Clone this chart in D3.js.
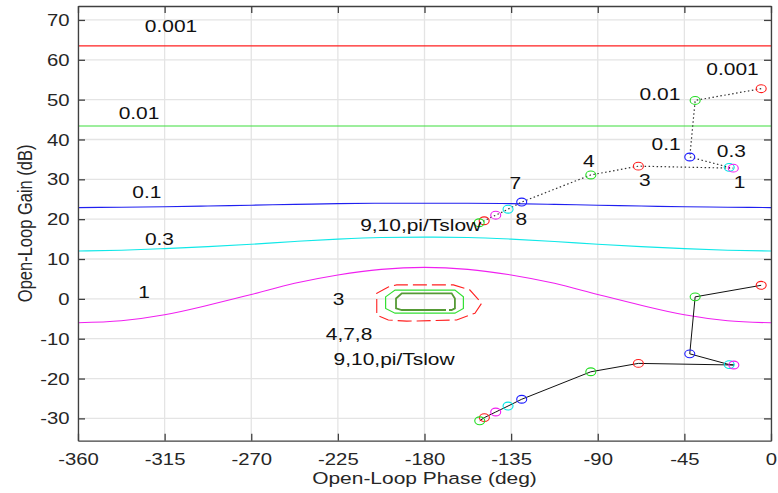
<!DOCTYPE html>
<html>
<head>
<meta charset="utf-8">
<script src="https://cdn.jsdelivr.net/npm/d3@7"></script>
<style>
  body { margin: 0; background: #fff; }
  svg { display: block; font-family: "Liberation Sans", Arial, sans-serif; }
</style>
</head>
<body>
<div id="chart"></div>
<script>
// Nichols-style gain/phase chart with loop points

var phaseTicks = [-360, -315, -270, -225, -180, -135, -90, -45, 0];
var gainTicks = [-30, -20, -10, 0, 10, 20, 30, 40, 50, 60, 70];

// open contour lines, sampled every 22.5 deg
var curvePhase = [-360, -337.5, -315, -292.5, -270, -247.5, -225, -202.5, -180,
                  -157.5, -135, -112.5, -90, -67.5, -45, -22.5, 0];
var gain0001 = [63.5, 63.5, 63.5, 63.5, 63.5, 63.5, 63.5, 63.5, 63.5,
                63.5, 63.5, 63.5, 63.5, 63.5, 63.5, 63.5, 63.5];
var gain001 = [43.4, 43.4, 43.4, 43.4, 43.4, 43.4, 43.4, 43.4, 43.4,
               43.4, 43.4, 43.4, 43.4, 43.4, 43.4, 43.4, 43.4];
var gain01 = [22.9, 23.0, 23.1, 23.3, 23.5, 23.7, 23.9, 24.0, 24.0,
              24.0, 23.9, 23.7, 23.5, 23.3, 23.1, 23.0, 22.9];
var gain03 = [12.0, 12.2, 12.6, 13.1, 13.7, 14.4, 15.0, 15.4, 15.5,
              15.4, 15.0, 14.4, 13.7, 13.1, 12.6, 12.2, 12.0];
var gain1 = [-6.0, -5.5, -4.0, -1.6, 1.1, 3.9, 6.0, 7.4, 7.9,
             7.4, 6.0, 3.9, 1.1, -1.6, -4.0, -5.5, -6.0];

// closed contours around -180 deg
var loop3 = [[-204.8, 1.4], [-198.8, 3.0], [-194.4, 3.5], [-165.0, 3.5], [-156.4, 2.2],
             [-150.3, -1.1], [-153.8, -3.6], [-163.3, -5.3], [-189.2, -5.6], [-198.8, -5.3], [-204.8, -4.1]];
var loop478 = [[-200.2, 0.5], [-195.3, 2.2], [-164.2, 2.2], [-159.8, 0.5],
               [-159.8, -2.4], [-164.2, -3.6], [-195.3, -3.6], [-200.2, -2.4]];
var loop910 = [[-194.8, 0.1], [-191.8, 1.4], [-165.9, 1.4], [-164.2, 0.1],
               [-164.2, -2.4], [-165.9, -2.8], [-191.8, -2.8], [-194.8, -2.4]];

var contourNames = ["0.001", "0.01", "0.1", "0.3", "1", "3", "4,7,8", "9,10,pi/Tslow", "9,10,pi/Tslow"];
var contourLabelPhase = [-311.7, -328.3, -324.2, -317.7, -325.7, -224.7, -219.2, -195.8, -182.0];
var contourLabelGain = [67.0, 45.1, 25.4, 13.5, 0.2, -1.55, -10.3, -16.6, 17.0];

// loop points (same frequencies for both traces)
var pointColors = ["#ff1a1a", "#22dd22", "#1a1aff", "#00e5e5", "#f01ef0",
                   "#ff1a1a", "#22dd22", "#1a1aff", "#00e5e5", "#f01ef0", "#ff1a1a", "#22dd22"];
var upperPhase = [-5.1, -39.4, -42.2, -21.7, -19.6, -68.9, -93.6, -129.5, -136.6, -143.0, -149.0, -151.6];
var upperGain = [52.75, 49.8, 35.6, 33.0, 32.8, 33.3, 31.1, 24.3, 22.5, 21.0, 19.6, 19.1];
var lowerPhase = [-5.1, -39.4, -42.2, -21.7, -19.3, -68.9, -93.6, -129.5, -136.6, -143.0, -148.9, -151.3];
var lowerGain = [3.4, 0.5, -13.8, -16.5, -16.6, -16.2, -18.3, -25.2, -26.9, -28.4, -29.8, -30.6];

var pointNames = ["0.001", "0.01", "0.1", "0.3", "1", "3", "4", "7", "8"];
var pointLabelPhase = [-20.0, -57.7, -54.5, -20.6, -16.3, -65.6, -94.7, -132.8, -129.7];
var pointLabelGain = [56.2, 49.9, 37.4, 35.5, 27.9, 28.3, 33.0, 27.5, 18.5];

var width = 778, height = 493;
var margin = {top: 6, right: 7, bottom: 52.3, left: 78};
var stretch = 1.27;   // text in the picture is wider than tall
var ink = "#262626";

var svg = d3.select("#chart").append("svg")
    .attr("width", width)
    .attr("height", height);

var x = d3.scaleLinear()
    .domain([-360, 0])
    .range([margin.left, width - margin.right]);

var y = d3.scaleLinear()
    .domain([-35.6, 73.5])
    .range([height - margin.bottom, margin.top]);

// grid
svg.append("g").selectAll("line")
    .data(phaseTicks)
    .enter().append("line")
    .attr("x1", function(d) { return x(d); })
    .attr("x2", function(d) { return x(d); })
    .attr("y1", y.range()[0])
    .attr("y2", y.range()[1])
    .attr("stroke", "#e4e4e4")
    .attr("stroke-width", 1.3);

svg.append("g").selectAll("line")
    .data(gainTicks)
    .enter().append("line")
    .attr("x1", x.range()[0])
    .attr("x2", x.range()[1])
    .attr("y1", function(d) { return y(d); })
    .attr("y2", function(d) { return y(d); })
    .attr("stroke", "#e4e4e4")
    .attr("stroke-width", 1.3);

// open contours
var curve = d3.line()
    .x(function(d) { return x(d[0]); })
    .y(function(d) { return y(d[1]); })
    .curve(d3.curveMonotoneX);

var curves = [
    {g: gain0001, color: "#ff2020"},
    {g: gain001, color: "#3ddd3d"},
    {g: gain01, color: "#2020f0"},
    {g: gain03, color: "#10e8e8"},
    {g: gain1, color: "#f020f0"}
];

curves.forEach(function(c) {
    var pts = curvePhase.map(function(p, i) { return [p, c.g[i]]; });
    svg.append("path")
        .attr("d", curve(pts))
        .attr("fill", "none")
        .attr("stroke", c.color)
        .attr("stroke-width", 1.1);
});

// closed contours
var ring = d3.line()
    .x(function(d) { return x(d[0]); })
    .y(function(d) { return y(d[1]); })
    .curve(d3.curveLinearClosed);

svg.append("path")
    .attr("d", ring(loop3))
    .attr("fill", "none")
    .attr("stroke", "#ff2020")
    .attr("stroke-width", 1.1)
    .attr("stroke-dasharray", "14,5");

svg.append("path")
    .attr("d", ring(loop478))
    .attr("fill", "none")
    .attr("stroke", "#33e033")
    .attr("stroke-width", 1.2);

svg.append("path")
    .attr("d", ring(loop910))
    .attr("fill", "none")
    .attr("stroke", "#559a35")
    .attr("stroke-width", 1.8)
    .attr("stroke-dasharray", "80,3");

// loop traces
var trace = d3.line()
    .x(function(d) { return x(d[0]); })
    .y(function(d) { return y(d[1]); });

var upper = upperPhase.map(function(p, i) { return [p, upperGain[i]]; });
var lower = lowerPhase.map(function(p, i) { return [p, lowerGain[i]]; });

svg.append("path")
    .attr("d", trace(upper))
    .attr("fill", "none")
    .attr("stroke", "#333")
    .attr("stroke-width", 1.2)
    .attr("stroke-dasharray", "1.5,2.5");

svg.append("path")
    .attr("d", trace(lower))
    .attr("fill", "none")
    .attr("stroke", "#111")
    .attr("stroke-width", 1);

[upper, lower].forEach(function(set) {
    svg.append("g").selectAll("ellipse")
        .data(set)
        .enter().append("ellipse")
        .attr("cx", function(d) { return x(d[0]); })
        .attr("cy", function(d) { return y(d[1]); })
        .attr("rx", 5)
        .attr("ry", 3.9)
        .attr("fill", "none")
        .attr("stroke", function(d, i) { return pointColors[i]; })
        .attr("stroke-width", 1.1);
});

// labels
function label(txt, px, py) {
    svg.append("text")
        .attr("transform", "translate(" + px + "," + py + ") scale(" + stretch + ",1)")
        .attr("text-anchor", "middle")
        .style("font-size", "16.5px")
        .attr("fill", "#111")
        .text(txt);
}

contourNames.forEach(function(t, i) {
    label(t, x(contourLabelPhase[i]), y(contourLabelGain[i]));
});
pointNames.forEach(function(t, i) {
    label(t, x(pointLabelPhase[i]), y(pointLabelGain[i]));
});

// axes (box with inward ticks)
var axisColor = "#404040";

function styleAxis(g) {
    g.select(".domain").attr("stroke", axisColor).attr("stroke-width", 1.3);
    g.selectAll(".tick line").attr("stroke", axisColor).attr("stroke-width", 1.3);
    g.attr("font-family", null).attr("font-size", null);
}

function plain(d) { return String(d); }   // hyphen minus, like the picture

var xAxis = svg.append("g")
    .attr("transform", "translate(0," + y.range()[0] + ")")
    .call(d3.axisBottom(x).tickValues(phaseTicks).tickFormat(plain).tickSizeInner(-7).tickSizeOuter(0))
    .call(styleAxis);

xAxis.selectAll(".tick text")
    .attr("y", 0)
    .attr("dy", 0)
    .attr("transform", "translate(0,24.3) scale(" + stretch + ",1)")
    .style("font-size", "16px")
    .attr("fill", ink);

var yAxis = svg.append("g")
    .attr("transform", "translate(" + x.range()[0] + ",0)")
    .call(d3.axisLeft(y).tickValues(gainTicks).tickFormat(plain).tickSizeInner(-7).tickSizeOuter(0))
    .call(styleAxis);

yAxis.selectAll(".tick text")
    .attr("x", 0)
    .attr("dy", "0.35em")
    .attr("transform", "translate(-8.5,0) scale(" + stretch + ",1)")
    .style("font-size", "16px")
    .attr("fill", ink);

svg.append("g")
    .attr("transform", "translate(0," + y.range()[1] + ")")
    .call(d3.axisTop(x).tickValues(phaseTicks).tickSizeInner(-7).tickSizeOuter(0).tickFormat(""))
    .call(styleAxis);

svg.append("g")
    .attr("transform", "translate(" + x.range()[1] + ",0)")
    .call(d3.axisRight(y).tickValues(gainTicks).tickSizeInner(-7).tickSizeOuter(0).tickFormat(""))
    .call(styleAxis);

// axis titles
svg.append("text")
    .attr("transform", "translate(" + ((x.range()[0] + x.range()[1]) / 2) + ",483.5) scale(" + stretch + ",1)")
    .attr("text-anchor", "middle")
    .style("font-size", "16.5px")
    .attr("fill", ink)
    .text("Open-Loop Phase (deg)");

svg.append("text")
    .attr("transform", "translate(31.5," + ((y.range()[0] + y.range()[1]) / 2) + ") scale(" + stretch + ",1) rotate(-90)")
    .attr("text-anchor", "middle")
    .style("font-size", "16.5px")
    .attr("fill", ink)
    .text("Open-Loop Gain (dB)");
</script>
</body>
</html>
